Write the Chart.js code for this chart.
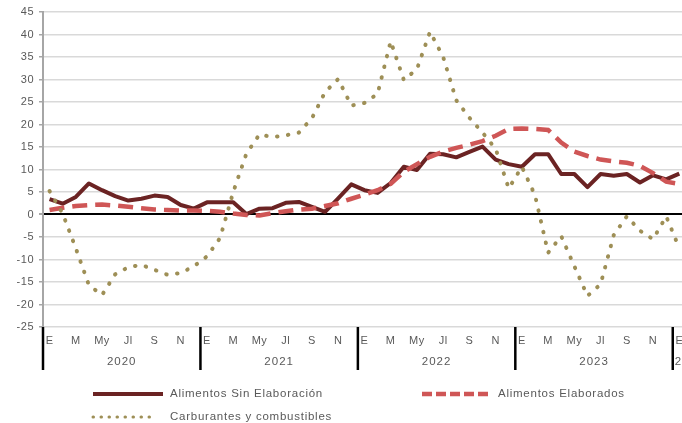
<!DOCTYPE html>
<html>
<head>
<meta charset="utf-8">
<script src="https://cdn.jsdelivr.net/npm/chart.js@4.4.1/dist/chart.umd.min.js"></script>
<style>
  html, body { margin: 0; padding: 0; background: #fff; overflow: hidden; }
  #wrap { width: 690px; height: 423px; }
</style>
</head>
<body>
<div id="wrap"><canvas id="ipcChart" width="690" height="423"></canvas></div>
<script>
// tasas interanuales, enero 2020 - enero 2024
const years = ['2020', '2021', '2022', '2023', '2024'];
const monthTicks = ['E', 'F', 'M', 'A', 'My', 'Jn', 'Jl', 'Ag', 'S', 'O', 'N', 'D'];
const categories = [];
years.forEach(y => monthTicks.forEach(m => { if (categories.length < 49) categories.push(m + ' ' + y); }));

const seriesNames = ['Alimentos Sin Elaboración', 'Alimentos Elaborados', 'Carburantes y combustibles'];

const sinElaboracion = [
  3.4, 2.4, 3.9, 6.9, 5.4, 4.1, 3.1, 3.5, 4.2, 3.9, 2.1, 1.3,
  2.7, 2.7, 2.7, 0.1, 1.3, 1.4, 2.6, 2.8, 1.7, 0.6, 3.6, 6.7,
  5.4, 4.8, 7.0, 10.6, 9.9, 13.5, 13.4, 12.7, 13.9, 15.1, 12.2, 11.2,
  10.6, 13.4, 13.4, 9.0, 9.0, 6.1, 9.0, 8.6, 9.0, 7.1, 8.7, 7.8,
  9.1
];
const elaborados = [
  1.0, 1.5, 1.9, 2.1, 2.2, 2.0, 1.7, 1.4, 1.1, 1.0, 0.9, 0.9,
  0.8, 0.6, 0.2, -0.1, -0.2, 0.3, 0.7, 1.1, 1.3, 1.9, 2.5, 3.5,
  4.4, 5.4, 6.8, 9.5, 11.2, 12.8, 14.0, 14.8, 15.5, 16.3, 17.5, 19.0,
  19.1, 19.0, 18.8, 16.0, 14.0, 13.0, 12.2, 11.8, 11.5, 10.8, 9.2, 7.3,
  6.8
];
const carburantes = [
  5.2, 0.2, -7.5, -15.7, -17.9, -13.3, -11.7, -11.2, -12.3, -13.4, -13.0, -11.5,
  -9.3, -5.2, 5.0, 13.5, 17.8, 17.2, 17.6, 18.2, 21.4, 27.2, 30.1, 24.2,
  24.8, 26.8, 38.5, 29.9, 32.3, 40.6, 35.0, 25.4, 21.5, 18.2, 14.6, 5.8,
  10.6, 4.3, -8.5, -4.8, -11.5, -18.1, -15.5, -4.6, -0.4, -3.6, -5.5, -0.4,
  -7.5
];

Chart.defaults.font.family = '"Liberation Sans", Arial, sans-serif';
Chart.defaults.color = '#595959';

// el texto del original sale algo ensanchado
const wideText = {
  id: 'wideText',
  beforeDraw(chart) { chart.ctx.letterSpacing = '0.5px'; }
};

// separadores y etiquetas de año bajo el eje, y leyenda dibujada a mano
const axisExtras = {
  id: 'axisExtras',
  afterDraw(chart) {
    const ctx = chart.ctx;
    const x = chart.scales.x;
    const area = chart.chartArea;
    const slot = (x.right - x.left) / categories.length;
    ctx.save();
    ctx.font = '11.5px "Liberation Sans", Arial, sans-serif';
    ctx.letterSpacing = '1px';
    ctx.fillStyle = '#595959';
    ctx.textBaseline = 'middle';
    ctx.textAlign = 'left';
    years.forEach((yr, k) => {
      const first = k * 12;
      if (first >= categories.length) return;
      const sep = x.getPixelForValue(first) - slot / 2;
      ctx.strokeStyle = '#000';
      ctx.lineWidth = 2.5;
      ctx.beginPath();
      ctx.moveTo(sep, area.bottom);
      ctx.lineTo(sep, area.bottom + 43);
      ctx.stroke();
      const count = Math.min(12, categories.length - first);
      const w = ctx.measureText(yr).width;
      const left = Math.max(sep + count * slot / 2 - w / 2, sep + 2);
      ctx.fillText(yr, left, area.bottom + 35);
    });

    ctx.letterSpacing = '0.75px';
    const spots = [
      { x: 93, y: 394, len: 70, dash: null },
      { x: 422, y: 394, len: 69, dash: [10, 4] },
      { x: 93, y: 417, len: 64, dash: [0.5, 7.5], width: 3 }
    ];
    chart.data.datasets.forEach((ds, i) => {
      const s = spots[i];
      ctx.strokeStyle = ds.borderColor;
      ctx.lineWidth = s.width || ds.borderWidth;
      ctx.lineCap = ds.borderCapStyle || 'butt';
      ctx.setLineDash(s.dash || []);
      ctx.beginPath();
      ctx.moveTo(s.x, s.y);
      ctx.lineTo(s.x + s.len, s.y);
      ctx.stroke();
      ctx.setLineDash([]);
      ctx.fillStyle = '#595959';
      ctx.fillText(ds.label, i === 1 ? s.x + 76 : s.x + 77, s.y);
    });
    ctx.restore();
  }
};

new Chart(document.getElementById('ipcChart').getContext('2d'), {
  type: 'line',
  data: {
    labels: categories,
    datasets: [
      {
        label: seriesNames[0],
        data: sinElaboracion,
        borderColor: '#6b2323',
        borderWidth: 4,
        borderJoinStyle: 'round',
        pointRadius: 0,
        tension: 0,
        order: 3
      },
      {
        label: seriesNames[1],
        data: elaborados,
        borderColor: '#cf5656',
        borderWidth: 4.5,
        borderDash: [15, 8],
        pointRadius: 0,
        tension: 0,
        order: 2
      },
      {
        label: seriesNames[2],
        data: carburantes,
        borderColor: '#9e8f56',
        borderWidth: 4,
        borderDash: [0.5, 10.5],
        borderCapStyle: 'round',
        pointRadius: 0,
        tension: 0,
        order: 1
      }
    ]
  },
  options: {
    responsive: false,
    animation: false,
    devicePixelRatio: 1,
    layout: { padding: { top: 12, right: 2, left: 0, bottom: 0 } },
    plugins: {
      legend: { display: false },
      tooltip: { enabled: false }
    },
    scales: {
      x: {
        type: 'category',
        offset: true,
        grid: { display: false, drawTicks: false },
        border: { display: false },
        ticks: {
          autoSkip: false,
          maxRotation: 0,
          padding: 7,
          font: { size: 11 },
          color: '#595959',
          callback: (v, i) => (i % 2 === 0 ? monthTicks[i % 12] : '')
        },
        afterFit: scale => { scale.height = 96; }
      },
      y: {
        min: -25,
        max: 45,
        ticks: { stepSize: 5, padding: 5, font: { size: 11 }, color: '#595959' },
        grid: {
          color: c => (c.tick && c.tick.value === 0 ? '#000000' : '#d9d9d9'),
          lineWidth: c => (c.tick && c.tick.value === 0 ? 2 : 1.5),
          tickColor: '#a6a6a6',
          tickLength: 4
        },
        border: { color: '#a6a6a6', width: 2 },
        afterFit: scale => { scale.width = 43; }
      }
    }
  },
  plugins: [wideText, axisExtras]
});
</script>
</body>
</html>
